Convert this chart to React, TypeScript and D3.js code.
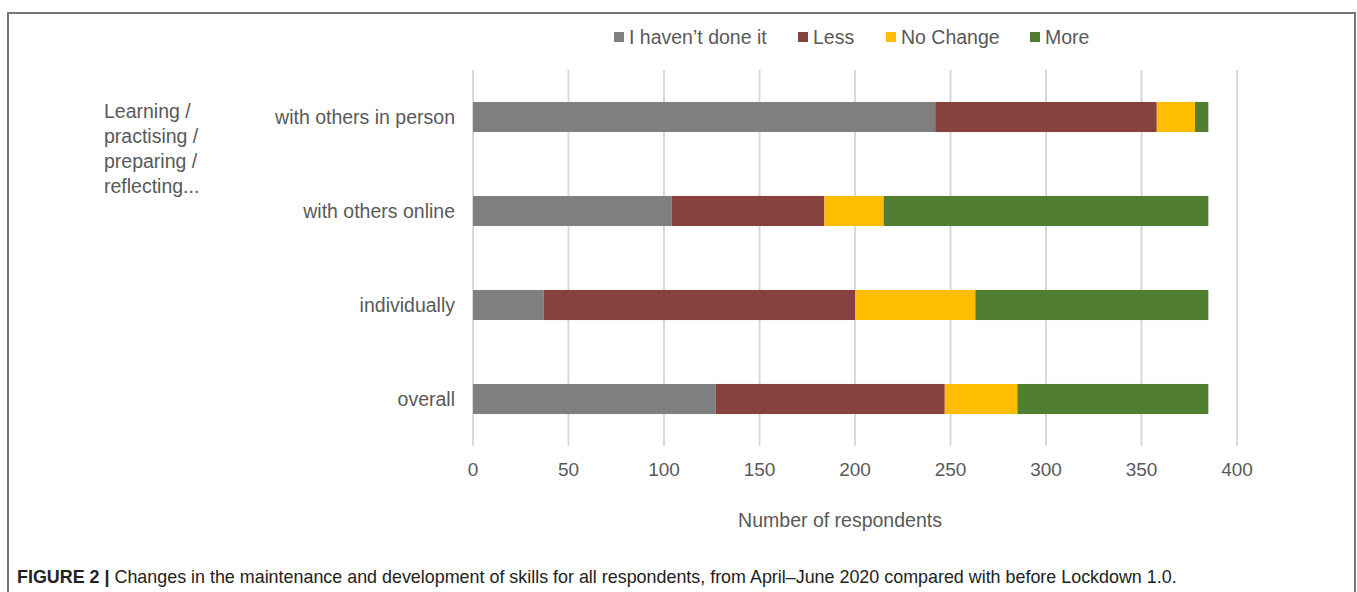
import React from "react";
import * as d3 from "d3";

const categories = ["with others in person", "with others online", "individually", "overall"];
const seriesNames = ["I haven\u2019t done it", "Less", "No Change", "More"];
const seriesColors = ["#7f7f7f", "#85423e", "#ffbd00", "#507f31"];
const haventDone = [242, 104, 37, 127];
const less = [116, 80, 163, 120];
const noChange = [20, 31, 63, 38];
const more = [7, 170, 122, 100];
const xTicks = [0, 50, 100, 150, 200, 250, 300, 350, 400];
const sideLabel = ["Learning /", "practising /", "preparing /", "reflecting..."];

const W = 1357;
const H = 592;

export default function App() {
  const x = d3.scaleLinear().domain([0, 400]).range([473, 1237]);
  const y = d3.scaleBand().domain(categories).range([70, 446]).paddingInner(0.68).paddingOuter(0.34);
  const rows = categories.map((c, i) => ({
    cat: c,
    s0: haventDone[i],
    s1: less[i],
    s2: noChange[i],
    s3: more[i],
  }));
  const stack = d3.stack<any>().keys(["s0", "s1", "s2", "s3"]);
  const layers = stack(rows);
  const font = "Liberation Sans, Arial, sans-serif";
  const textColor = "#595959";
  const legendX = [614, 798, 886, 1030];
  const fs = 19.5;

  return (
    <svg width={W} height={H} style={{ position: "absolute", left: 0, top: 0 }}>
      <rect x={0} y={0} width={W} height={H} fill="#fff" />
      <rect x={8} y={13} width={1347} height={H} fill="none" stroke="#767676" strokeWidth={2} />
      {xTicks.map((t) => (
        <line key={t} x1={x(t)} x2={x(t)} y1={70} y2={446} stroke="#d9d9d9" strokeWidth={2} />
      ))}
      {layers.map((layer, li) => (
        <g key={li} fill={seriesColors[li]}>
          {layer.map((d, i) => (
            <rect
              key={i}
              x={x(d[0])}
              y={y(categories[i])!}
              width={x(d[1]) - x(d[0])}
              height={y.bandwidth()}
            />
          ))}
        </g>
      ))}
      {categories.map((c) => (
        <text
          key={c}
          x={455}
          y={y(c)! + y.bandwidth() / 2}
          dy="0.35em"
          textAnchor="end"
          fontFamily={font}
          fontSize={fs}
          fill={textColor}
        >
          {c}
        </text>
      ))}
      {xTicks.map((t) => (
        <text key={t} x={x(t)} y={476} textAnchor="middle" fontFamily={font} fontSize={19} fill={textColor}>
          {t}
        </text>
      ))}
      <text x={840} y={527} textAnchor="middle" fontFamily={font} fontSize={fs} fill={textColor}>
        Number of respondents
      </text>
      {sideLabel.map((s, i) => (
        <text key={s} x={104} y={118 + i * 25} fontFamily={font} fontSize={fs} fill={textColor}>
          {s}
        </text>
      ))}
      {seriesNames.map((n, i) => (
        <g key={n}>
          <rect x={legendX[i]} y={32} width={10} height={10} fill={seriesColors[i]} />
          <text x={legendX[i] + 15} y={44} fontFamily={font} fontSize={fs} fill={textColor}>
            {n}
          </text>
        </g>
      ))}
      <text x={17} y={583} fontFamily={font} fontSize={17.9} fill="#222">
        <tspan fontWeight="bold">FIGURE 2 |</tspan>
        <tspan> Changes in the maintenance and development of skills for all respondents, from April–June 2020 compared with before Lockdown 1.0.</tspan>
      </text>
    </svg>
  );
}
